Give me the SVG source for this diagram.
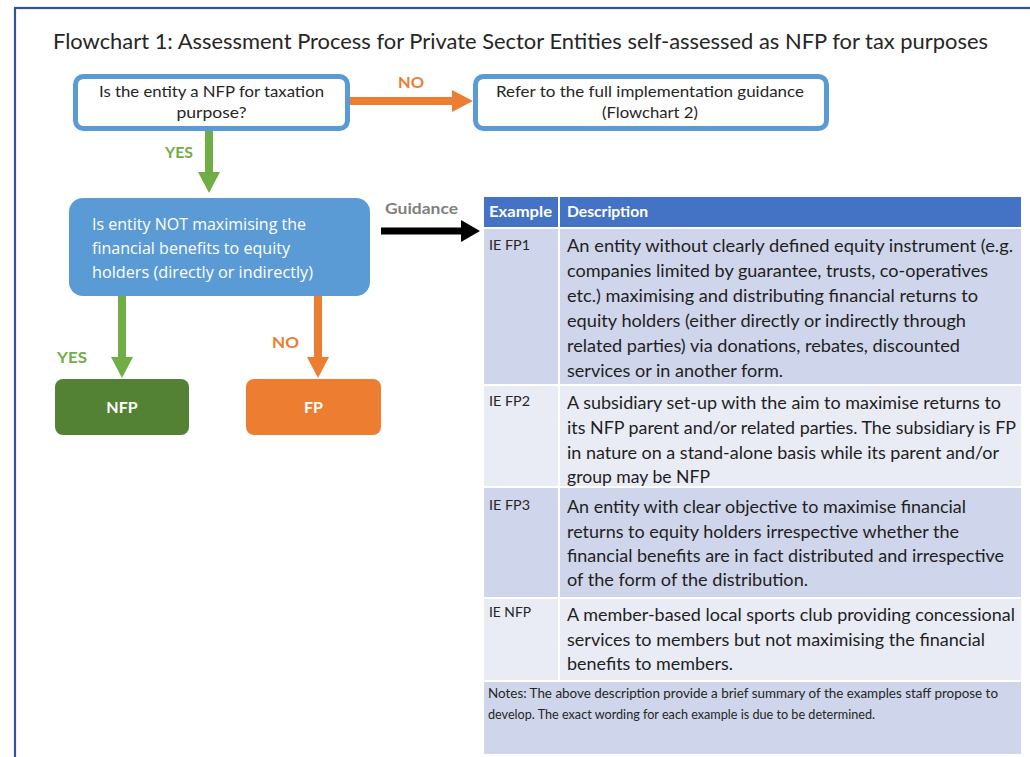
<svg xmlns="http://www.w3.org/2000/svg" width="1030" height="757" viewBox="0 0 1030 757">
<style>
.cal{font-family:Lato,"Liberation Sans",sans-serif}
.seg{font-family:"Open Sans","Liberation Sans",sans-serif}
.title{font-size:22px;fill:#262626}
.q{font-size:16px;fill:#262626}
.lbl{font-size:15px;font-weight:bold}
.wb{font-size:16px;font-weight:bold;fill:#fff}
.hd{font-size:15px;font-weight:bold;fill:#fff}
.ex{font-size:12.5px;fill:#262626}
.ds{font-size:16.5px;fill:#1f1f1f}
.nt{font-size:12.5px;fill:#262626}
.box{fill:#fff;stroke:#5B9BD5;stroke-width:5}
.dark{fill:#CFD5EA}
.light{fill:#E9EBF5}
.conn{fill:none;stroke-width:8}
</style>
<defs>
<marker id="hg" markerUnits="userSpaceOnUse" viewBox="0 0 21 22" refX="1" refY="11" markerWidth="21" markerHeight="22" orient="auto"><path d="M0,0 L21,11 L0,22 Z" fill="#70AD47"/></marker>
<marker id="ho" markerUnits="userSpaceOnUse" viewBox="0 0 21 22" refX="1" refY="11" markerWidth="21" markerHeight="22" orient="auto"><path d="M0,0 L21,11 L0,22 Z" fill="#ED7D31"/></marker>
<marker id="hk" markerUnits="userSpaceOnUse" viewBox="0 0 19 22" refX="1" refY="11" markerWidth="19" markerHeight="22" orient="auto"><path d="M0,0 L19,11 L0,22 Z" fill="#000"/></marker>
</defs>
<rect x="0" y="0" width="1030" height="757" fill="#fff"/>
<rect x="15" y="8" width="1040" height="780" fill="none" stroke="#2F5597" stroke-width="2.2"/>
<text class="cal title" x="53" y="49" textLength="935" lengthAdjust="spacingAndGlyphs">Flowchart 1: Assessment Process for Private Sector Entities self-assessed as NFP for tax purposes</text>

<g id="connectors">
<line class="conn" x1="350" y1="101" x2="453" y2="101" stroke="#ED7D31" marker-end="url(#ho)"/>
<line class="conn" x1="209" y1="131" x2="209" y2="173" stroke="#70AD47" marker-end="url(#hg)"/>
<line class="conn" x1="122" y1="296" x2="122" y2="358" stroke="#70AD47" marker-end="url(#hg)"/>
<line class="conn" x1="318" y1="296" x2="318" y2="358" stroke="#ED7D31" marker-end="url(#ho)"/>
<line x1="381" y1="231" x2="462" y2="231" stroke="#000" stroke-width="7" marker-end="url(#hk)"/>
<text class="cal lbl" x="398" y="88" fill="#ED7D31" textLength="26" lengthAdjust="spacingAndGlyphs">NO</text>
<text class="cal lbl" x="165" y="158" fill="#70AD47" textLength="28" lengthAdjust="spacingAndGlyphs">YES</text>
<text class="cal lbl" x="57" y="363" fill="#70AD47" textLength="30" lengthAdjust="spacingAndGlyphs">YES</text>
<text class="cal lbl" x="272" y="348" fill="#ED7D31" textLength="27" lengthAdjust="spacingAndGlyphs">NO</text>
<text class="cal lbl" x="385" y="214" fill="#7F7F7F" textLength="73" lengthAdjust="spacingAndGlyphs">Guidance</text>
</g>

<g id="q1">
<rect class="box" x="75.5" y="76.5" width="272" height="52" rx="8"/>
<text class="cal q" x="211.5" y="97" text-anchor="middle" textLength="225" lengthAdjust="spacingAndGlyphs">Is the entity a NFP for taxation</text>
<text class="cal q" x="211.5" y="118" text-anchor="middle" textLength="70" lengthAdjust="spacingAndGlyphs">purpose?</text>
</g>

<g id="refer">
<rect class="box" x="475.5" y="76.5" width="351" height="52" rx="8"/>
<text class="cal q" x="650" y="97" text-anchor="middle" textLength="308" lengthAdjust="spacingAndGlyphs">Refer to the full implementation guidance</text>
<text class="cal q" x="650" y="118" text-anchor="middle" textLength="96" lengthAdjust="spacingAndGlyphs">(Flowchart 2)</text>
</g>

<g id="q2">
<rect x="69" y="198" width="301" height="98" rx="14" fill="#5B9BD5"/>
<text class="seg" font-size="15.5" fill="#fff" x="92" y="230" textLength="214" lengthAdjust="spacingAndGlyphs">Is entity NOT maximising the</text>
<text class="seg" font-size="15.5" fill="#fff" x="92" y="254" textLength="198" lengthAdjust="spacingAndGlyphs">financial benefits to equity</text>
<text class="seg" font-size="15.5" fill="#fff" x="92" y="278" textLength="221" lengthAdjust="spacingAndGlyphs">holders (directly or indirectly)</text>
</g>

<g id="nfp">
<rect x="55" y="379" width="134" height="56" rx="8" fill="#548235"/>
<text class="cal wb" x="122" y="413" text-anchor="middle">NFP</text>
</g>

<g id="fp">
<rect x="246" y="379" width="135" height="56" rx="8" fill="#ED7D31"/>
<text class="cal wb" x="313.5" y="413" text-anchor="middle">FP</text>
</g>

<g id="table">
<rect x="484" y="197" width="74" height="30" fill="#4472C4"/>
<rect x="560" y="197" width="461" height="30" fill="#4472C4"/>
<text class="cal hd" x="489" y="217" textLength="63" lengthAdjust="spacingAndGlyphs">Example</text>
<text class="cal hd" x="567" y="217" textLength="81" lengthAdjust="spacingAndGlyphs">Description</text>

<rect class="dark" x="484" y="229" width="74" height="155"/>
<rect class="dark" x="560" y="229" width="461" height="155"/>
<text class="cal ex" x="489" y="250" textLength="41" lengthAdjust="spacingAndGlyphs">IE FP1</text>
<text class="cal ds" x="567" y="252" textLength="446" lengthAdjust="spacingAndGlyphs">An entity without clearly defined equity instrument (e.g.</text>
<text class="cal ds" x="567" y="277" textLength="421" lengthAdjust="spacingAndGlyphs">companies limited by guarantee, trusts, co-operatives</text>
<text class="cal ds" x="567" y="302" textLength="411" lengthAdjust="spacingAndGlyphs">etc.) maximising and distributing financial returns to</text>
<text class="cal ds" x="567" y="327" textLength="399" lengthAdjust="spacingAndGlyphs">equity holders (either directly or indirectly through</text>
<text class="cal ds" x="567" y="352" textLength="393" lengthAdjust="spacingAndGlyphs">related parties) via donations, rebates, discounted</text>
<text class="cal ds" x="567" y="377" textLength="216" lengthAdjust="spacingAndGlyphs">services or in another form.</text>

<rect class="light" x="484" y="386" width="74" height="100"/>
<rect class="light" x="560" y="386" width="461" height="100"/>
<text class="cal ex" x="489" y="406" textLength="41" lengthAdjust="spacingAndGlyphs">IE FP2</text>
<text class="cal ds" x="567" y="409" textLength="434" lengthAdjust="spacingAndGlyphs">A subsidiary set-up with the aim to maximise returns to</text>
<text class="cal ds" x="567" y="434" textLength="449" lengthAdjust="spacingAndGlyphs">its NFP parent and/or related parties. The subsidiary is FP</text>
<text class="cal ds" x="567" y="459" textLength="432" lengthAdjust="spacingAndGlyphs">in nature on a stand-alone basis while its parent and/or</text>
<text class="cal ds" x="567" y="483" textLength="143" lengthAdjust="spacingAndGlyphs">group may be NFP</text>

<rect class="dark" x="484" y="488" width="74" height="109"/>
<rect class="dark" x="560" y="488" width="461" height="109"/>
<text class="cal ex" x="489" y="510" textLength="41" lengthAdjust="spacingAndGlyphs">IE FP3</text>
<text class="cal ds" x="567" y="513" textLength="399" lengthAdjust="spacingAndGlyphs">An entity with clear objective to maximise financial</text>
<text class="cal ds" x="567" y="538" textLength="392" lengthAdjust="spacingAndGlyphs">returns to equity holders irrespective whether the</text>
<text class="cal ds" x="567" y="562" textLength="437" lengthAdjust="spacingAndGlyphs">financial benefits are in fact distributed and irrespective</text>
<text class="cal ds" x="567" y="586" textLength="241" lengthAdjust="spacingAndGlyphs">of the form of the distribution.</text>

<rect class="light" x="484" y="599" width="74" height="81"/>
<rect class="light" x="560" y="599" width="461" height="81"/>
<text class="cal ex" x="489" y="617" textLength="42" lengthAdjust="spacingAndGlyphs">IE NFP</text>
<text class="cal ds" x="567" y="621" textLength="448" lengthAdjust="spacingAndGlyphs">A member-based local sports club providing concessional</text>
<text class="cal ds" x="567" y="646" textLength="418" lengthAdjust="spacingAndGlyphs">services to members but not maximising the financial</text>
<text class="cal ds" x="567" y="670" textLength="166" lengthAdjust="spacingAndGlyphs">benefits to members.</text>

<rect class="dark" x="484" y="682" width="537" height="72"/>
<text class="cal nt" x="488" y="698" textLength="510" lengthAdjust="spacingAndGlyphs">Notes: The above description provide a brief summary of the examples staff propose to</text>
<text class="cal nt" x="488" y="719" textLength="387" lengthAdjust="spacingAndGlyphs">develop. The exact wording for each example is due to be determined.</text>
</g>
</svg>
